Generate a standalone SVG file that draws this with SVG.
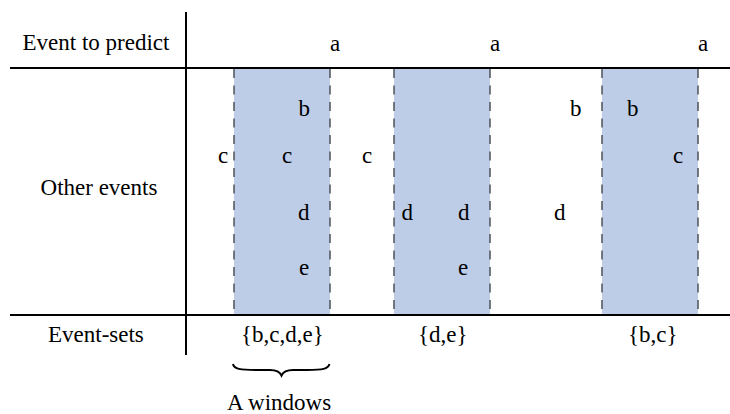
<svg xmlns="http://www.w3.org/2000/svg" width="730" height="414" viewBox="0 0 730 414">
  <style>
    text { font-family: 'Liberation Serif', 'Times New Roman', Times, 'Nimbus Roman', 'Noto Serif', FreeSerif, 'Noto Serif CJK SC', 'DejaVu Serif', serif; font-size: 23px; fill: #000; }
    .win { fill: #bdcde8; stroke: none; }
    .dash { stroke: #4d5257; stroke-width: 1.5; stroke-dasharray: 9 7.5; fill: none; }
    .axis { stroke: #000; stroke-width: 2; fill: none; }
  </style>
  <rect width="730" height="414" fill="#fff"/>
  <g id="windows">
    <g id="window1">
      <rect class="win" x="234" y="68" width="96" height="247"/>
      <line class="dash" x1="234" y1="69" x2="234" y2="315"/>
      <line class="dash" x1="330" y1="69" x2="330" y2="315"/>
    </g>
    <g id="window2">
      <rect class="win" x="394" y="68" width="96" height="247"/>
      <line class="dash" x1="394" y1="69" x2="394" y2="315"/>
      <line class="dash" x1="490" y1="69" x2="490" y2="315"/>
    </g>
    <g id="window3">
      <rect class="win" x="602" y="68" width="96" height="247"/>
      <line class="dash" x1="602" y1="69" x2="602" y2="315"/>
      <line class="dash" x1="698" y1="69" x2="698" y2="315"/>
    </g>
  </g>
  <g id="axes">
    <line class="axis" x1="186" y1="12" x2="186" y2="355"/>
    <line class="axis" x1="10" y1="68" x2="730" y2="68"/>
    <line class="axis" x1="10" y1="315" x2="730" y2="315"/>
  </g>
  <g id="row-labels">
    <text x="22.5" y="50">Event to predict</text>
    <text x="99" y="195" text-anchor="middle">Other events</text>
    <text x="48" y="342">Event-sets</text>
  </g>
  <g id="events">
    <text x="330" y="51">a</text>
    <text x="490" y="51">a</text>
    <text x="698" y="51">a</text>
    <text x="298.5" y="116">b</text>
    <text x="570" y="116">b</text>
    <text x="627" y="116">b</text>
    <text x="218" y="163">c</text>
    <text x="282" y="163">c</text>
    <text x="362" y="163">c</text>
    <text x="673" y="163">c</text>
    <text x="298" y="220">d</text>
    <text x="401.5" y="220">d</text>
    <text x="458" y="220">d</text>
    <text x="554" y="220">d</text>
    <text x="299" y="275">e</text>
    <text x="458" y="275">e</text>
  </g>
  <g id="event-sets">
    <text x="241" y="342">{b,c,d,e}</text>
    <text x="418" y="342">{d,e}</text>
    <text x="628" y="342">{b,c}</text>
  </g>
  <g id="brace-label">
    <path d="M233,364 C234,369 240,370 256,370 L270,370 C277,370 280,372 281.5,375.5 C283,372 286,370 293,370 L307,370 C323,370 328,369 329.5,364" fill="none" stroke="#000" stroke-width="2"/>
    <text x="227" y="410">A windows</text>
  </g>
</svg>
